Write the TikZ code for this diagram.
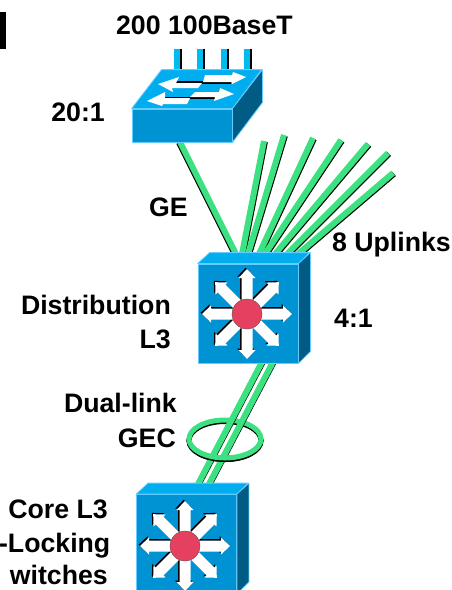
\documentclass[tikz,border=0pt]{standalone}
\usepackage{fontspec}
\setmainfont{Liberation Sans}
\usetikzlibrary{arrows,shapes}
\definecolor{frontblue}{HTML}{0093D3}
\definecolor{topblue}{HTML}{00AEEF}
\definecolor{sideblue}{HTML}{005C85}
\definecolor{edgeblue}{HTML}{66CCFF}
\definecolor{linkgreen}{HTML}{3CE282}
\definecolor{stubblue}{HTML}{00BBF0}
\definecolor{hubred}{HTML}{E54060}
% top and side of a box: front node, depth x, depth y, width, height
\newcommand{\boxfaces}[5]{
  \draw [boxedge, fill=topblue] (#1.north west) -- ++(#2,-#3) -- ++(#4,0) -- (#1.north east) -- cycle;
  \draw [boxedge, fill=sideblue] (#1.north east) -- ++(#2,-#3) -- ++(0,#5) -- (#1.south east) -- cycle;
}
% eight white arrows round a hub
\newcommand{\spokes}[1]{
  \foreach \ang in {0,45,...,315} {
    \fill [black, shift={(#1)}, shift={(-1.3,-1.3)}, rotate=\ang] (10,-5.5) -- (36,-5.5) -- (36,-8.5) -- (45,0) -- (36,8.5) -- (36,5.5) -- (10,5.5) -- cycle;
  }
  \foreach \ang in {0,45,...,315} {
    \fill [white, shift={(#1)}, rotate=\ang] (10,-5.5) -- (36,-5.5) -- (36,-8.5) -- (45,0) -- (36,8.5) -- (36,5.5) -- (10,5.5) -- cycle;
  }
}
\begin{document}
\begin{tikzpicture}[x=1pt,y=-1pt]
  \tikzstyle{lbl}=[font=\bfseries\fontsize{26.7}{30}\selectfont, inner sep=0pt, text=black]
  \tikzstyle{boxedge}=[edgeblue, line width=0.8pt, line join=round]
  \tikzstyle{front}=[rectangle, draw=edgeblue, line width=0.8pt, fill=frontblue, inner sep=0pt, minimum width=100pt, minimum height=99pt]
  \tikzstyle{hub}=[circle, fill=hubred, draw=black!70, line width=0.3pt, inner sep=0pt, minimum size=30pt]
  \tikzstyle{link}=[draw=linkgreen, line width=6pt, preaction={draw=black, line width=6pt, transform canvas={shift={(#1)}}}]
  \tikzstyle{stub}=[draw=stubblue, line width=6pt, preaction={draw=black, line width=6pt, transform canvas={xshift=1.6pt}}]
  \tikzstyle{ring}=[ellipse, draw=linkgreen, line width=5pt, inner sep=0pt, minimum width=72pt, minimum height=38pt]
  \tikzstyle{ringshade}=[ellipse, draw=black, line width=5pt, inner sep=0pt, minimum width=72pt, minimum height=38pt]
  \useasboundingbox (0,0) rectangle (452,590);
  % black mark at the corner
  \fill [black] (0,12) rectangle (6,49);

  % access stubs
  \foreach \n/\px in {1/177,2/200,3/224,4/247} {
    \coordinate (st\n) at (\px,49);
    \coordinate (sb\n) at (\px,71);
    \draw [stub] (st\n) -- (sb\n);
  }

  % ends of the links
  \coordinate (gea) at (180,142);
  \coordinate (geb) at (236,254);
  \foreach \n/\pa/\qa/\qb in {1/242/264/141,2/248/284/135,3/259/313/138,4/265/341/140,5/275/368/144,6/287/388/153,7/298/393/173} {
    \coordinate (ua\n) at (\pa,254);
    \coordinate (ub\n) at (\qa,\qb);
    \draw [link={0.9pt,-0.8pt}] (ua\n) -- (ub\n);
  }
  \draw [link={-0.9pt,-0.5pt}] (gea) -- (geb);

  % access switch
  \node [rectangle, draw=edgeblue, line width=0.8pt, fill=frontblue, inner sep=0pt, minimum width=100pt, minimum height=33pt] (access) at (182,125.5) {};
  \boxfaces{access}{30}{39}{100}{33}
  % its four arrows
  \fill [black] (175,81) -- (203,81) -- (203,84) -- (175,84) -- cycle;
  \fill [white] (158,84) -- (179,77) -- (176,83) -- (202,83) -- (198,88) -- (172,88) -- (173,92) -- cycle;
  \fill [black] (202,82) -- (231,82) -- (231,84) -- (202,84) -- cycle;
  \fill [white] (205,75) -- (232,75) -- (233,72) -- (246,77) -- (232,84) -- (232,82) -- (203,82) -- cycle;
  \fill [black] (165,97) -- (190,97) -- (190,99) -- (165,99) -- cycle;
  \fill [white] (147,101) -- (165,92) -- (165,98) -- (190,98) -- (187,104) -- (163,104) -- (162,106) -- cycle;
  \fill [black] (190,97) -- (216,97) -- (216,99) -- (190,99) -- cycle;
  \fill [white] (195,92) -- (219,92) -- (220,88) -- (234,94) -- (214,101) -- (215,97) -- (190,97) -- cycle;

  % dual link into the core
  \coordinate (da1) at (262,362);
  \coordinate (db1) at (197,486);
  \coordinate (da2) at (273,362);
  \coordinate (db2) at (208,486);

  \node [ringshade] (gecs) at (225,440.5) {};
  \node [ring] (gec) at (225,439) {};
  \draw [link={1pt,0.6pt}] (da1) -- (db1);
  \draw [link={1pt,0.6pt}] (da2) -- (db2);
  \begin{scope}
    \clip (180,439) rectangle (270,465);
    \node [ringshade] (gecsb) at (225,440.5) {};
    \node [ring] (gecb) at (225,439) {};
  \end{scope}

  % distribution switch
  \node [front] (dist) at (248,313.5) {};
  \boxfaces{dist}{12}{11}{100}{99}
  \coordinate (distmid) at (247,314);
  \spokes{distmid}
  \node [hub] (disthub) at (distmid) {};

  % core switch
  \node [front] (core) at (186.5,544) {};
  \boxfaces{core}{12}{11}{100}{99}
  \coordinate (coremid) at (185,546);
  \spokes{coremid}
  \node [hub] (corehub) at (coremid) {};

  % labels
  \node [lbl, anchor=east] (title) at (293,25) {200 100BaseT};
  \node [lbl, anchor=east] (ratioa) at (105,112) {20:1};
  \node [lbl, anchor=east] (gelbl) at (188,207) {GE};
  \node [lbl, anchor=east] (uplbl) at (451,245) {8 Uplinks};
  \node [lbl, anchor=east] (distlbl) at (171,305) {Distribution};
  \node [lbl, anchor=east] (distlbb) at (171,339) {L3};
  \node [lbl, anchor=west] (ratiob) at (334,318) {4:1};
  \node [lbl, anchor=east] (duallbl) at (177,403) {Dual-link};
  \node [lbl, anchor=east] (geclbl) at (176,438) {GEC};
  \node [lbl, anchor=east] (corelbl) at (108,509) {Core L3};
  \node [lbl, anchor=east] (locklbl) at (110.5,546) {-Locking};
  \node [lbl, anchor=east] (witchlbl) at (108,575) {witches};
\end{tikzpicture}
\end{document}
